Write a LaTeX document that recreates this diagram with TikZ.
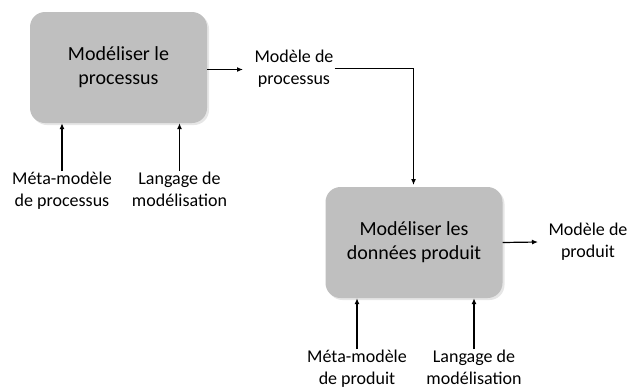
\documentclass[tikz,border=0pt]{standalone}
\usepackage{fontspec}
\setmainfont{Carlito}
\usetikzlibrary{positioning, arrows.meta, shadows}

\begin{document}
\begin{tikzpicture}[
		x=1pt, y=-1pt,
		node distance=10pt and 10pt,
		activity/.style={
			rectangle,
			rounded corners=15pt,
			fill=boxgray,
			align=center,
			minimum width=177pt,
			minimum height=111pt,
			font=\fontsize{20}{24}\selectfont,
			drop shadow={shadow xshift=2pt, shadow yshift=-2pt, opacity=0.2, fill=black!50}
		},
		flowlabel/.style={
			align=center,
			inner sep=1pt,
			font=\fontsize{18}{22}\selectfont
		},
		arrow/.style={
			-{Latex[length=6pt, width=5pt]},
			line width=1.2pt
		}
		]
		\definecolor{boxgray}{HTML}{BFBFBF}
		\useasboundingbox (0,0) rectangle (628,391);
		
		\node[activity] (P) at (118.5,67.5) {Modéliser le\\processus};
		
		\node[activity] (D) at (414,242.5) {Modéliser les\\données produit};
		
		\node[flowlabel] (MP) at (294,69) {Modèle de\\processus};
		
		\node[flowlabel] (MD) at (588,242) {Modèle de\\produit};
		
		\node[flowlabel, anchor=north] (metaP) at (62,171) {Méta-modèle\\de processus};
		
		\node[flowlabel, anchor=north] (langP) at (179.5,171) {Langage de\\modélisation};
		
		\node[flowlabel, anchor=north] (metaD) at (357,349) {Méta-modèle\\de produit};
		
		\node[flowlabel, anchor=north] (langD) at (474,349) {Langage de\\modélisation};
		
		\coordinate (MPe) at (MP.east |- 0,68.5);
		
		\draw[arrow] (P.east |- 0,69.5) -- (243,69.5);
		\draw[arrow] (MPe) -| (413.5,185) coordinate (Din);
		\draw[arrow] (D.east) -- (538,242);
		
		\draw[arrow] (metaP.north) -- (metaP.north |- P.south);
		\draw[arrow] (langP.north) -- (langP.north |- P.south);
		\draw[arrow] (metaD.north) -- (metaD.north |- D.south);
		\draw[arrow] (langD.north) -- (langD.north |- D.south);
		
	\end{tikzpicture}
\end{document}
